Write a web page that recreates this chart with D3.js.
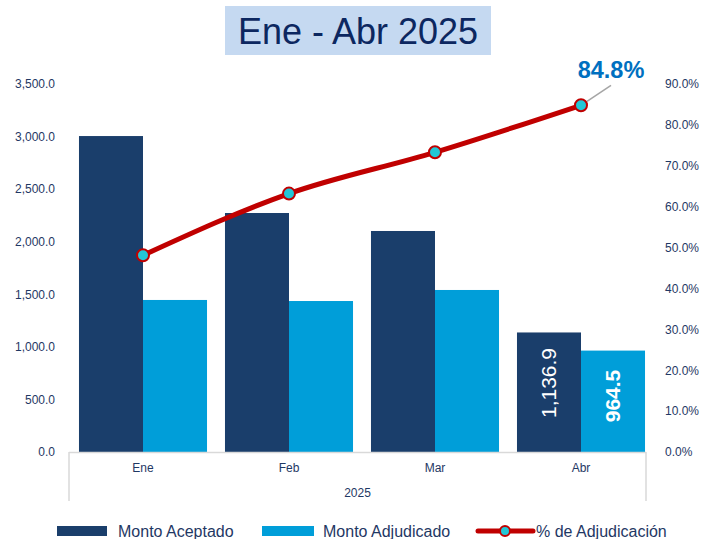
<!DOCTYPE html>
<html><head><meta charset="utf-8">
<script src="https://cdn.jsdelivr.net/npm/d3@7"></script>
<style>body{margin:0;background:#fff;}svg{display:block;font-family:"Liberation Sans",Arial,sans-serif;}</style>
</head><body>
<svg id="c" width="702" height="539"></svg>
<script>
const months = ["Ene","Feb","Mar","Abr"];
const yearLabel = "2025";
const montoAceptado = [3005, 2273, 2102, 1136.9];
const montoAdjudicado = [1446, 1436, 1541, 964.5];
const pctAdjudicacion = [48.1, 63.2, 73.3, 84.8];
const leftTicks = [0,500,1000,1500,2000,2500,3000,3500];
const rightTicks = [0,10,20,30,40,50,60,70,80,90];
const seriesNames = ["Monto Aceptado","Monto Adjudicado","% de Adjudicación"];

const svg = d3.select("#c");
const L = 69, R = 646, T = 84, B = 452;
const axisColor = "#1f3864";
const dark = "#1a3e6b", light = "#009ed9", red = "#c00000", cyan = "#22c7d6";

// title
svg.append("rect").attr("x",225).attr("y",6).attr("width",266).attr("height",49).attr("fill","#c5d9f1");
svg.append("text").attr("x",358).attr("y",44).attr("text-anchor","middle")
  .attr("font-size",36).attr("fill","#0c2760").text("Ene - Abr 2025");

const x0 = d3.scaleBand().domain(months).range([70,654]).paddingInner(0.123).paddingOuter(0.0615);
const x1 = d3.scaleBand().domain(["a","b"]).range([0,x0.bandwidth()]);
const y = d3.scaleLinear().domain([0,3500]).range([B,T]);
const y2 = d3.scaleLinear().domain([0,90]).range([B,T]);

// left axis
const ga = svg.append("g").attr("transform",`translate(${L-11},0)`)
  .call(d3.axisLeft(y).tickValues(leftTicks).tickSize(0).tickFormat(d3.format(",.1f")));
ga.select(".domain").remove();
ga.selectAll("text").attr("font-size",12).attr("fill",axisColor).attr("font-family","Liberation Sans, Arial, sans-serif").attr("dx",0);
// right axis
const gb = svg.append("g").attr("transform",`translate(665,0)`)
  .call(d3.axisRight(y2).tickValues(rightTicks).tickSize(0).tickFormat(d=>d3.format(".1f")(d)+"%"));
gb.select(".domain").remove();
gb.selectAll("text").attr("font-size",12).attr("fill",axisColor).attr("font-family","Liberation Sans, Arial, sans-serif").attr("x",0);

// bars
const g = svg.append("g");
months.forEach((m,i)=>{
  g.append("rect").attr("x",x0(m)+x1("a")).attr("width",x1.bandwidth())
    .attr("y",y(montoAceptado[i])).attr("height",B-y(montoAceptado[i])).attr("fill",dark);
  g.append("rect").attr("x",x0(m)+x1("b")).attr("width",x1.bandwidth())
    .attr("y",y(montoAdjudicado[i])).attr("height",B-y(montoAdjudicado[i])).attr("fill",light);
});

// bottom axis box
const axG = svg.append("g").attr("stroke","#d9d9d9").attr("stroke-width",1.5).attr("fill","none");
axG.append("line").attr("x1",L).attr("x2",R).attr("y1",B+0.5).attr("y2",B+0.5);
axG.append("line").attr("x1",L).attr("x2",L).attr("y1",B).attr("y2",501);
axG.append("line").attr("x1",R).attr("x2",R).attr("y1",B).attr("y2",501);
months.forEach(m=>{
  svg.append("text").attr("x",x0(m)+x0.bandwidth()/2).attr("y",472).attr("text-anchor","middle")
    .attr("font-size",12).attr("fill",axisColor).text(m);
});
svg.append("text").attr("x",(L+R)/2).attr("y",497).attr("text-anchor","middle")
  .attr("font-size",12).attr("fill",axisColor).text(yearLabel);

// bar labels for last month
const lm = months[3];
const cxA = x0(lm)+x1("a")+x1.bandwidth()/2, cxB = x0(lm)+x1("b")+x1.bandwidth()/2;
svg.append("text").attr("transform",`translate(${cxA+7},383) rotate(-90)`).attr("text-anchor","middle")
  .attr("font-size",21).attr("fill","#fff").text(d3.format(",.1f")(montoAceptado[3]));
svg.append("text").attr("transform",`translate(${cxB+7},396) rotate(-90)`).attr("text-anchor","middle")
  .attr("font-size",21).attr("font-weight","bold").attr("fill","#fff").text(d3.format(",.1f")(montoAdjudicado[3]));

// line
const lx = (m)=>x0(m)+x0.bandwidth()/2;
const line = d3.line().x((d,i)=>lx(months[i])).y(d=>y2(d)).curve(d3.curveMonotoneX);
svg.append("path").datum(pctAdjudicacion).attr("d",line).attr("fill","none")
  .attr("stroke",red).attr("stroke-width",5).attr("stroke-linecap","round");
// leader line
const px = lx(months[3]), py = y2(pctAdjudicacion[3]);
svg.append("line").attr("x1",px).attr("y1",py).attr("x2",px+30).attr("y2",py-20)
  .attr("stroke","#a6a6a6").attr("stroke-width",1.5);
svg.selectAll(".mk").data(pctAdjudicacion).enter().append("circle")
  .attr("cx",(d,i)=>lx(months[i])).attr("cy",d=>y2(d)).attr("r",6)
  .attr("fill",cyan).attr("stroke",red).attr("stroke-width",2);
svg.append("text").attr("x",611).attr("y",78).attr("text-anchor","middle")
  .attr("font-size",23.5).attr("font-weight","bold").attr("fill","#0070c0")
  .text(d3.format(".1f")(pctAdjudicacion[3])+"%");

// legend
const lg = svg.append("g").attr("font-size",16).attr("fill",axisColor);
lg.append("rect").attr("x",57).attr("y",526).attr("width",50).attr("height",10).attr("fill",dark);
lg.append("text").attr("x",118).attr("y",537).text(seriesNames[0]);
lg.append("rect").attr("x",262).attr("y",526).attr("width",52).attr("height",10).attr("fill",light);
lg.append("text").attr("x",323).attr("y",537).text(seriesNames[1]);
lg.append("line").attr("x1",478).attr("x2",533).attr("y1",531).attr("y2",531).attr("stroke",red).attr("stroke-width",5).attr("stroke-linecap","round");
lg.append("circle").attr("cx",505).attr("cy",531).attr("r",5).attr("fill",cyan).attr("stroke",red).attr("stroke-width",2);
lg.append("text").attr("x",536).attr("y",537).text(seriesNames[2]);
</script>
</body></html>
